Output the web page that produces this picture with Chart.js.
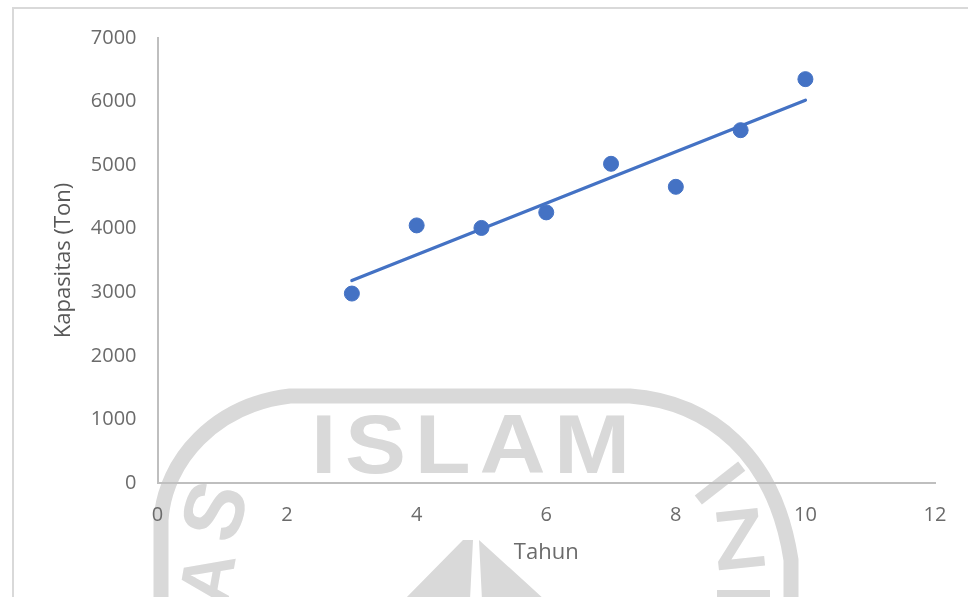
<!DOCTYPE html>
<html><head><meta charset="utf-8">
<script src="https://cdn.jsdelivr.net/npm/chart.js@4"></script>
<style>
html,body{margin:0;padding:0;background:#fff;width:968px;height:597px;overflow:hidden}
#wrap{position:relative;width:968px;height:597px}
#frame{position:absolute;left:12px;top:7px;width:968px;height:620px;border:2px solid #d9d9d9;box-sizing:border-box}
#wm{position:absolute;left:0;top:0}
canvas{position:absolute;left:0;top:0}
</style></head><body>
<div id="wrap">
<div id="frame"></div>
<svg id="wm" width="968" height="597" viewBox="0 0 968 597">
  <path fill="none" stroke="#d9d9d9" stroke-width="15" d="M161,600 L161,520 C165,460 215,405 290,396 L630,396 C710,402 775,455 791,560 L791,600"/>
  <g fill="#d9d9d9" font-family="Liberation Sans" font-weight="bold" text-anchor="middle" dominant-baseline="central">
    <text x="475" y="444" font-size="84" letter-spacing="8" textLength="328" lengthAdjust="spacingAndGlyphs">ISLAM</text>
    <text font-size="84" transform="translate(214,511) rotate(-72)">S</text>
    <text font-size="72" transform="translate(207,578) rotate(-80)">A</text>
    <text font-size="80" transform="translate(720,483) rotate(52)">I</text>
    <text font-size="84" transform="translate(739,539) rotate(-6)">Z</text>
  </g>
  <path fill="#d9d9d9" d="M463,540 L473,540 L470,600 L404,600Z M479,540 L482,600 L545,600Z M717,590 L770,590 L770,600 L717,600Z"/>
</svg>
<canvas id="c" width="968" height="597"></canvas>
</div>
<script>
const xValues = [3, 4, 5, 6, 7, 8, 9, 10];
const capacity = [2980, 4052, 4012, 4257, 5021, 4659, 5550, 6353];
const trendX = [3, 10];
const trendY = [3185, 6022];
const xTitle = 'Tahun';
const yTitle = 'Kapasitas (Ton)';
const fontFamily = 'Open Sans, "Noto Sans", sans-serif';
const tickColor = '#6b6b6b';

new Chart(document.getElementById('c'), {
  type: 'scatter',
  data: {
    datasets: [
      {
        label: 'Kapasitas',
        data: xValues.map((x, i) => ({ x, y: capacity[i] })),
        backgroundColor: '#4472c4',
        borderColor: '#4472c4',
        pointRadius: 7.5,
        pointHoverRadius: 7.5,
        showLine: false
      },
      {
        label: 'Trend',
        data: trendX.map((x, i) => ({ x, y: trendY[i] })),
        borderColor: '#4472c4',
        backgroundColor: '#4472c4',
        borderWidth: 3.3,
        pointRadius: 0,
        showLine: true,
        borderCapStyle: 'round'
      }
    ]
  },
  options: {
    responsive: false,
    animation: false,
    layout: { padding: { left: 51, top: 38, right: 33, bottom: 31 } },
    plugins: { legend: { display: false }, tooltip: { enabled: false } },
    scales: {
      x: {
        type: 'linear', min: 0, max: 12,
        afterFit(s) { s.height = 83; },
        grid: { display: false, drawTicks: false },
        border: { color: '#bfbfbf', width: 2 },
        ticks: { stepSize: 2, color: tickColor, padding: 20, maxRotation: 0, font: { family: fontFamily, size: 20 } },
        title: { display: true, text: xTitle, color: tickColor, padding: { top: 6, bottom: 0 }, font: { family: fontFamily, size: 22 } }
      },
      y: {
        min: 0, max: 7000,
        afterFit(s) { s.width = 106.5; },
        grid: { display: false, drawTicks: false },
        border: { color: '#bfbfbf', width: 2 },
        ticks: { stepSize: 1000, color: tickColor, padding: 21, callback: v => String(v), font: { family: fontFamily, size: 20 } },
        title: { display: true, text: yTitle, color: '#595959', padding: { top: 0, bottom: 4 }, font: { family: fontFamily, size: 22 } }
      }
    }
  }
});
</script>
</body></html>
